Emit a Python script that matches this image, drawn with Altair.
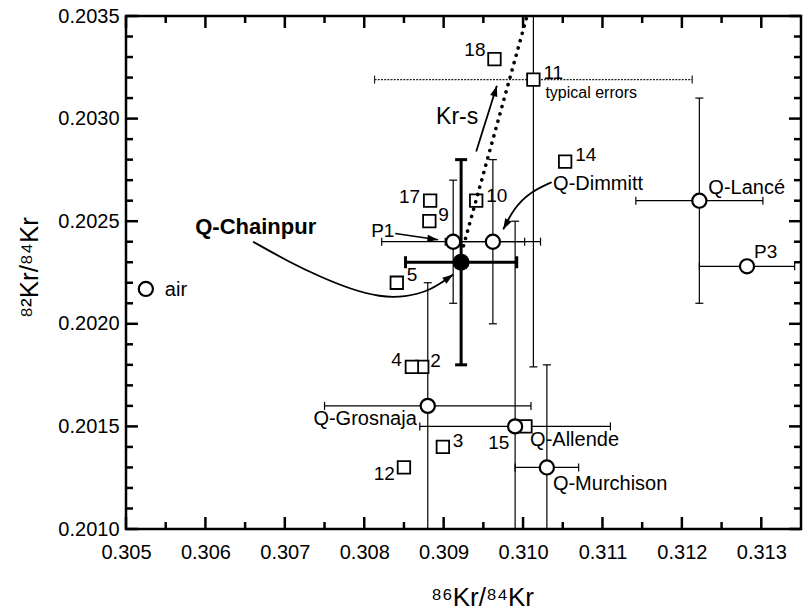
import altair as alt
import pandas as pd

# ---------------- data ----------------
# open-circle samples (Q-gases, P1, P3, air)
q_names = ["P1", "Q-Dimmitt", "Q-Lancé", "P3", "Q-Grosnaja", "Q-Allende", "Q-Murchison", "air"]
q_x = [0.30912, 0.30962, 0.31222, 0.31282, 0.30880, 0.30990, 0.31030, 0.30525]
q_y = [0.20240, 0.20240, 0.20260, 0.20228, 0.20160, 0.20150, 0.20130, 0.20217]
q_xerr = [0.00090, 0.00060, 0.00080, 0.00060, 0.00130, 0.00120, 0.00040, 0.0]
q_yerr = [0.00030, 0.00040, 0.00050, 0.0, 0.00060, 0.00100, 0.00050, 0.0]

# Q-Chainpur (filled circle, bold error bars)
chain_x = [0.30922]
chain_y = [0.20230]
chain_xerr = [0.00070]
chain_yerr = [0.00050]

# numbered samples (squares)
sq_names = ["2", "3", "4", "5", "9", "10", "11", "12", "14", "15", "17", "18"]
sq_x = [0.30873, 0.30899, 0.30860, 0.30841, 0.30882, 0.30941, 0.31013, 0.30850, 0.31053, 0.31003, 0.30883, 0.30964]
sq_y = [0.20179, 0.20140, 0.20179, 0.20220, 0.20250, 0.20260, 0.20319, 0.20130, 0.20279, 0.20150, 0.20260, 0.20329]

# typical errors (drawn on sample 11)
typ_x = [0.31013]
typ_y = [0.20319]
typ_xerr = [0.00200]
typ_yerr = [0.00140]

# Kr-s dotted trend line
krs_x = [0.30925, 0.31005]
krs_y = [0.20238, 0.20350]

# annotation arrows (data coordinates)
arr_krs_x = [0.30941, 0.30967]
arr_krs_y = [0.20284, 0.20316]
arr_chain_x = [0.30660, 0.30706, 0.30744, 0.30782, 0.30820, 0.30851, 0.30883, 0.30912]
arr_chain_y = [0.20240, 0.20230, 0.20223, 0.20217, 0.20213, 0.20213, 0.20216, 0.20224]
arr_p1_x = [0.30839, 0.30893]
arr_p1_y = [0.20244, 0.20241]
arr_dim_x = [0.31036, 0.31008, 0.30988, 0.30975]
arr_dim_y = [0.20269, 0.20264, 0.20256, 0.20246]

# free-standing label anchors
chain_label = ("Q-Chainpur", 0.306634, 0.20244)
krs_label = ("Kr-s", 0.30917, 0.202975)
dim_label = ("Q-Dimmitt", 0.310378, 0.202653)

# axes
x_major = [0.305, 0.306, 0.307, 0.308, 0.309, 0.310, 0.311, 0.312, 0.313]
x_minor = [0.3055, 0.3065, 0.3075, 0.3085, 0.3095, 0.3105, 0.3115, 0.3125]
y_major = [0.2010, 0.2015, 0.2020, 0.2025, 0.2030, 0.2035]
y_minor = [0.2011, 0.2012, 0.2013, 0.2014, 0.2016, 0.2017, 0.2018, 0.2019,
           0.2021, 0.2022, 0.2023, 0.2024, 0.2026, 0.2027, 0.2028, 0.2029,
           0.2031, 0.2032, 0.2033, 0.2034]
x_domain = [0.305, 0.3135]
y_domain = [0.2010, 0.2035]

# ---------------- style ----------------
F = "Liberation Sans"
W, H = 675, 513
xs = alt.Scale(domain=x_domain, nice=False, zero=False)
ys = alt.Scale(domain=y_domain, nice=False, zero=False)
# data units per pixel (for inward tick lengths)
PX_X = (x_domain[1] - x_domain[0]) / W
PX_Y = (y_domain[1] - y_domain[0]) / H

xaxis = alt.Axis(values=x_major, format=".3f", title="⁸⁶Kr/⁸⁴Kr", ticks=False, domain=False,
                 grid=False, labelFontSize=20, labelFont=F, labelColor="black", labelPadding=13,
                 labelFlush=False, labelOverlap=False, titleFont=F, titleFontSize=26,
                 titleFontWeight="normal", titleColor="black", titleX=356, titleY=76,
                 titleBaseline="alphabetic", titleAlign="center")
yaxis = alt.Axis(values=y_major, format=".4f", title="⁸²Kr/⁸⁴Kr", ticks=False, domain=False,
                 grid=False, labelFontSize=20, labelFont=F, labelColor="black", labelPadding=7,
                 labelFlush=False, labelOverlap=False, titleFont=F, titleFontSize=26,
                 titleFontWeight="normal", titleColor="black", titleX=-89, titleY=251,
                 titleAngle=270, titleBaseline="alphabetic", titleAlign="center")


def X(f):
    return alt.X(f, type="quantitative", scale=xs, axis=xaxis)


def Y(f):
    return alt.Y(f, type="quantitative", scale=ys, axis=yaxis)


layers = []

# ---- error bars ----
EPS = 1e-7


def inside(x, y):
    return (x_domain[0] + EPS < x < x_domain[1] - EPS) and (y_domain[0] + EPS < y < y_domain[1] - EPS)


def bars(xv, yv, xe, ye):
    h, v, hc, vc = [], [], [], []
    for x, y, a, b in zip(xv, yv, xe, ye):
        if a > 0:
            h.append({"x1": x - a, "x2": x + a, "y": y})
            for xx in (x - a, x + a):
                if inside(xx, y):
                    hc.append({"x": xx, "y": y})
        if b > 0:
            v.append({"x": x, "y1": y - b, "y2": y + b})
            for yy in (y - b, y + b):
                if inside(x, yy):
                    vc.append({"x": x, "y": yy})
    return pd.DataFrame(h), pd.DataFrame(v), pd.DataFrame(hc), pd.DataFrame(vc)


def add_bars(xv, yv, xe, ye, sw, cap, hdash=None, hcolor="black"):
    h, v, hc, vc = bars(xv, yv, xe, ye)
    if len(h):
        kw = dict(color=hcolor, strokeWidth=sw, clip=True)
        if hdash:
            kw["strokeDash"] = hdash
        layers.append(alt.Chart(h).mark_rule(**kw).encode(x=X("x1"), x2="x2", y=Y("y")))
    if len(v):
        layers.append(alt.Chart(v).mark_rule(color="black", strokeWidth=sw, clip=True).encode(
            x=X("x"), y=Y("y1"), y2="y2"))
    if len(hc):
        layers.append(alt.Chart(hc).mark_tick(orient="vertical", size=cap, thickness=sw,
                                              color=hcolor, opacity=1).encode(x=X("x"), y=Y("y")))
    if len(vc):
        layers.append(alt.Chart(vc).mark_tick(orient="horizontal", size=cap, thickness=sw,
                                              color="black", opacity=1).encode(x=X("x"), y=Y("y")))


add_bars(typ_x, typ_y, typ_xerr, typ_yerr, 1.2, 8, hdash=[2, 1.2], hcolor="#222222")
add_bars(q_x, q_y, q_xerr, q_yerr, 1.2, 8)
add_bars(chain_x, chain_y, chain_xerr, chain_yerr, 3, 12)

# ---- frame ticks (inward, all four sides) as short rules ----
xt_rows, yt_rows = [], []
for vals, ln in ((x_major, 12), (x_minor, 7)):
    for v in vals:
        xt_rows.append({"x": v, "y1": y_domain[0], "y2": y_domain[0] + ln * PX_Y})
        xt_rows.append({"x": v, "y1": y_domain[1], "y2": y_domain[1] - ln * PX_Y})
for vals, ln in ((y_major, 12), (y_minor, 7)):
    for v in vals:
        yt_rows.append({"y": v, "x1": x_domain[0], "x2": x_domain[0] + ln * PX_X})
        yt_rows.append({"y": v, "x1": x_domain[1], "x2": x_domain[1] - ln * PX_X})
layers.append(alt.Chart(pd.DataFrame(xt_rows)).mark_rule(color="black", strokeWidth=2.5).encode(
    x=X("x"), y=Y("y1"), y2="y2"))
layers.append(alt.Chart(pd.DataFrame(yt_rows)).mark_rule(color="black", strokeWidth=2.5).encode(
    x=X("x1"), x2="x2", y=Y("y")))

# ---- arrows ----
def line_layer(xv, yv, sw, interp="linear"):
    d = pd.DataFrame({"x": xv, "y": yv})
    return alt.Chart(d).mark_line(color="black", strokeWidth=sw, interpolate=interp, clip=True).encode(
        x=X("x"), y=Y("y"))


layers.append(line_layer(arr_krs_x, arr_krs_y, 1.8))
layers.append(line_layer(arr_chain_x, arr_chain_y, 1.8, "basis"))
layers.append(line_layer(arr_p1_x, arr_p1_y, 1.6))
layers.append(line_layer(arr_dim_x, arr_dim_y, 1.8, "basis"))

tips = pd.DataFrame({
    "x": [arr_krs_x[-1], arr_chain_x[-1], arr_p1_x[-1], arr_dim_x[-1]],
    "y": [arr_krs_y[-1], arr_chain_y[-1], arr_p1_y[-1], arr_dim_y[-1]],
    "a": [17, 55, 97, 209],
})
layers.append(alt.Chart(tips).mark_point(shape="M0,0L-0.38,1.1L0.38,1.1Z", size=380, filled=True,
                                         color="black", opacity=1).encode(
    x=X("x"), y=Y("y"), angle=alt.Angle("a:Q", scale=None)))

# ---- squares ----
sq = pd.DataFrame({"name": sq_names, "x": sq_x, "y": sq_y})
layers.append(alt.Chart(sq).mark_point(shape="square", size=156, filled=False, fill="white",
                                       fillOpacity=1, stroke="black", strokeWidth=1.8,
                                       opacity=1).encode(x=X("x"), y=Y("y")))

# ---- Kr-s dotted line ----
layers.append(alt.Chart(pd.DataFrame({"x": krs_x, "y": krs_y})).mark_line(
    color="black", strokeWidth=3.6, strokeDash=[0.1, 7.5], strokeCap="round", clip=True).encode(
    x=X("x"), y=Y("y")))

# ---- circles ----
qc = pd.DataFrame({"name": q_names, "x": q_x, "y": q_y})
layers.append(alt.Chart(qc).mark_point(shape="circle", size=200, filled=False, fill="white",
                                       fillOpacity=1, stroke="black", strokeWidth=2.2,
                                       opacity=1).encode(x=X("x"), y=Y("y")))
layers.append(alt.Chart(pd.DataFrame({"x": chain_x, "y": chain_y})).mark_point(
    shape="circle", size=290, filled=True, color="black", opacity=1).encode(x=X("x"), y=Y("y")))

# ---- labels ----
qi = {n: i for i, n in enumerate(q_names)}
si = {n: i for i, n in enumerate(sq_names)}
label_specs = [
    # text, anchor x, anchor y, align, dx, dy, size, weight
    ("air", q_x[qi["air"]], q_y[qi["air"]], "left", 19, 7, 20, "normal"),
    ("P1", q_x[qi["P1"]], q_y[qi["P1"]], "left", -82, -5, 19, "normal"),
    ("Q-Lancé", q_x[qi["Q-Lancé"]], q_y[qi["Q-Lancé"]], "left", 9, -7, 20, "normal"),
    ("P3", q_x[qi["P3"]], q_y[qi["P3"]], "left", 7, -8, 19, "normal"),
    ("Q-Grosnaja", q_x[qi["Q-Grosnaja"]], q_y[qi["Q-Grosnaja"]], "right", -11, 19, 20, "normal"),
    ("Q-Allende", q_x[qi["Q-Allende"]], q_y[qi["Q-Allende"]], "left", 15, 20, 20, "normal"),
    ("Q-Murchison", q_x[qi["Q-Murchison"]], q_y[qi["Q-Murchison"]], "left", 6, 23, 20, "normal"),
    (dim_label[0], dim_label[1], dim_label[2], "left", 0, 0, 20, "normal"),
    (chain_label[0], chain_label[1], chain_label[2], "center", 0, 0, 22, "bold"),
    (krs_label[0], krs_label[1], krs_label[2], "center", 0, 0, 23, "normal"),
    ("typical errors", sq_x[si["11"]], sq_y[si["11"]], "left", 12, 18, 16, "normal"),
    ("2", sq_x[si["2"]], sq_y[si["2"]], "left", 8, 0, 19, "normal"),
    ("3", sq_x[si["3"]], sq_y[si["3"]], "left", 10, 0, 19, "normal"),
    ("4", sq_x[si["4"]], sq_y[si["4"]], "right", -10, -1, 19, "normal"),
    ("5", sq_x[si["5"]], sq_y[si["5"]], "left", 10, -2, 19, "normal"),
    ("9", sq_x[si["9"]], sq_y[si["9"]], "left", 9, 0, 19, "normal"),
    ("10", sq_x[si["10"]], sq_y[si["10"]], "left", 10, 1, 19, "normal"),
    ("11", sq_x[si["11"]], sq_y[si["11"]], "left", 10, -1, 19, "normal"),
    ("12", sq_x[si["12"]], sq_y[si["12"]], "right", -9, 13, 19, "normal"),
    ("14", sq_x[si["14"]], sq_y[si["14"]], "left", 10, -1, 19, "normal"),
    ("15", sq_x[si["15"]], sq_y[si["15"]], "right", -16, 23, 19, "normal"),
    ("17", sq_x[si["17"]], sq_y[si["17"]], "right", -10, 2, 19, "normal"),
    ("18", sq_x[si["18"]], sq_y[si["18"]], "right", -9, -3, 19, "normal"),
]
for t, ax, ay, al, dx, dy, fs, fw in label_specs:
    d = pd.DataFrame({"x": [ax], "y": [ay], "t": [t]})
    layers.append(alt.Chart(d).mark_text(align=al, baseline="alphabetic", dx=dx, dy=dy,
                                         fontSize=fs, font=F, fontWeight=fw, color="black").encode(
        x=X("x"), y=Y("y"), text="t:N"))

chart = alt.layer(*layers).properties(
    width=W, height=H,
    padding={"left": 126, "top": 16, "right": 2, "bottom": 82},
    autosize=alt.AutoSizeParams(type="none"),
    background="white",
).configure_view(stroke="black", strokeWidth=2.5)

chart.save("out.html", embed_options={"renderer": "svg", "actions": False})
